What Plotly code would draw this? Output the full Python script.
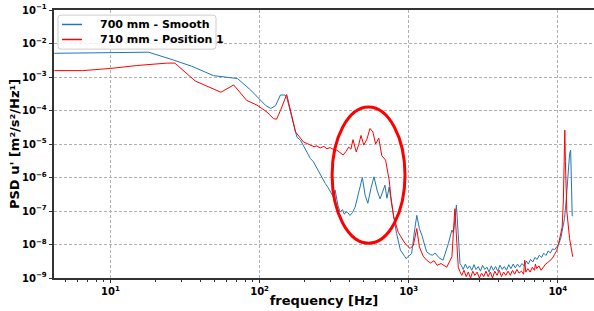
import plotly.graph_objects as go

# ---------------- data ----------------
freq_smooth = [4.2, 10, 18, 26.5, 35, 49, 63, 71, 87, 100, 110, 119, 128, 138, 148, 152,
               165, 178, 188, 200, 210, 219, 229, 240, 250, 262, 276, 288, 300, 313, 321, 335,
               347, 360, 370, 380, 390,
               404, 420, 437, 465, 489, 510, 532, 560, 585, 615, 643, 693, 715, 740, 770, 830,
               880, 944, 960, 1000, 1047, 1100, 1133, 1180, 1225, 1320, 1400, 1450, 1500,
               1600, 1700, 1846, 1950, 2000, 2090, 2150, 2208,
               2250, 2320, 2400, 2480, 2560, 2650, 2740, 2830, 2930, 3030, 3130, 3240, 3350,
               3460, 3580, 3700, 3830, 3960, 4100, 4240, 4380, 4530, 4690, 4850, 5020, 5190,
               5370, 5550, 5750, 5950, 6150, 6350, 6570, 6800, 7030, 7270, 7520, 7780, 8050,
               8330, 8620, 8920, 9230, 9550, 9880, 10200, 10500, 10800, 11100, 11400, 11700,
               12000, 12200, 12350, 12500]
psd_smooth = [5.1e-3, 5.2e-3, 5.5e-3, 3.2e-3, 2.1e-3, 1.1e-3, 9.5e-4, 9.0e-4, 4.1e-4, 2.1e-4,
              1.4e-4, 1.15e-4, 1.4e-4, 2.9e-4, 2.9e-4, 2.5e-4,
              5.8e-5, 1.6e-5, 1.3e-5, 8.0e-6, 5.5e-6, 3.7e-6, 3.0e-6, 2.0e-6, 1.4e-6, 1.0e-6,
              6.6e-7, 5.0e-7, 3.5e-7, 2.6e-7, 4.2e-7, 1.5e-7,
              9.3e-8, 1.1e-7, 8.0e-8, 9.5e-8, 9.0e-8,
              7.4e-8, 9.0e-8, 1.3e-7, 4.0e-7, 1.0e-6, 3.0e-7, 1.7e-7, 5.0e-7, 1.05e-6, 4.0e-7,
              2.3e-7, 5.9e-7, 2.4e-7, 5.2e-7, 1.5e-7, 2.1e-8,
              6.8e-9, 4.3e-9, 3.8e-9, 4.5e-9, 5.4e-9, 3.0e-8, 7.4e-8, 3.0e-8, 1.9e-8, 6.0e-9,
              5.0e-9, 4.8e-9, 5.6e-9,
              4.0e-9, 3.4e-9, 1.07e-8, 2.7e-8, 2.2e-8, 1.5e-7, 2.0e-8, 2.7e-9,
              2.4e-9, 1.8e-9, 2.6e-9, 1.9e-9, 2.3e-9, 1.7e-9, 2.5e-9, 1.8e-9, 2.2e-9, 1.6e-9,
              2.4e-9, 1.8e-9, 2.1e-9,
              1.5e-9, 2.3e-9, 1.7e-9, 2.2e-9, 1.6e-9, 2.4e-9, 1.8e-9, 2.2e-9, 1.7e-9, 2.5e-9,
              1.9e-9, 2.6e-9, 2.0e-9,
              2.6e-9, 2.1e-9, 2.7e-9, 2.3e-9, 3.2e-9, 2.6e-9, 3.6e-9, 3.0e-9, 4.1e-9, 3.6e-9,
              4.8e-9, 4.1e-9, 5.5e-9,
              4.7e-9, 6.4e-9, 5.6e-9, 7.4e-9, 7.0e-9, 8.8e-9, 1.1e-8, 1.6e-8, 2.8e-8, 6.0e-8,
              2.2e-7, 1.5e-6,
              5.0e-6, 6.6e-6, 8.0e-7, 7.0e-8]

freq_pos1 = [4.2, 6.5, 10, 15, 24, 27, 37, 55, 67, 82, 96, 112, 124, 130, 138, 152, 165, 174,
             197, 210, 220, 232, 242, 255, 270, 283, 297, 312, 330, 345, 363, 380, 396, 410,
             423, 445, 462, 479, 500, 525, 550, 575, 600, 630, 660, 700, 740, 760, 794, 851,
             946, 1023, 1075, 1133, 1180, 1250, 1320, 1400, 1480, 1550, 1650, 1800, 1950,
             2040, 2150,
             2200, 2270, 2350, 2430, 2510, 2600, 2690, 2780, 2880, 2980, 3080, 3190, 3300,
             3410, 3530, 3650, 3780, 3910, 4050, 4190, 4330, 4480, 4640, 4800, 4970, 5140,
             5320, 5500, 5700, 5900, 6000, 6100, 6300, 6520, 6750, 6980, 7080, 7220, 7470,
             7730, 8000, 8280, 8570, 8870, 9180, 9500, 9830, 10100, 10400, 10700, 10900,
             11050, 11150, 11250, 11500, 12000, 12600]
psd_pos1 = [1.55e-3, 1.55e-3, 1.8e-3, 2.2e-3, 2.6e-3, 2.6e-3, 7.6e-4, 3.5e-4, 5.8e-4, 2.0e-4,
            1.45e-4, 9.0e-5, 5.7e-5, 5.5e-5, 1.0e-4, 3.0e-4, 6.5e-5, 2.3e-5,
            1.15e-5, 1.0e-5, 9.5e-6, 8.3e-6, 8.8e-6, 7.6e-6, 8.5e-6, 7.2e-6, 7.8e-6, 6.9e-6,
            6.6e-6, 5.5e-6, 4.7e-6, 6.0e-6, 8.1e-6, 7.0e-6,
            1.35e-5, 5.8e-6, 9.5e-6, 1.8e-5, 9.3e-6, 1.4e-5, 2.9e-5, 2.3e-5, 1.0e-5, 1.5e-5,
            4.5e-6, 3.3e-6, 8.3e-7, 2.6e-7, 6.6e-8, 2.3e-8,
            1.07e-8, 7.6e-9, 9.5e-9, 3.0e-8, 8.5e-9, 4.5e-9, 3.4e-9, 2.8e-9, 3.3e-9, 2.4e-9,
            2.7e-9, 2.1e-9, 4.3e-9,
            1.17e-7, 2.1e-9,
            1.6e-9, 1.2e-9, 1.7e-9, 1.1e-9, 1.5e-9, 1.0e-9, 1.6e-9, 1.2e-9, 1.5e-9, 1.0e-9,
            1.4e-9, 1.1e-9, 1.6e-9,
            1.1e-9, 1.5e-9, 1.0e-9, 1.6e-9, 1.2e-9, 1.7e-9, 1.1e-9, 1.5e-9, 1.2e-9, 1.6e-9,
            1.2e-9, 1.7e-9, 1.3e-9,
            1.8e-9, 1.4e-9, 1.6e-9, 1.3e-9, 3.4e-9, 1.5e-9, 1.9e-9, 1.5e-9, 2.1e-9, 1.7e-9,
            2.6e-9, 1.9e-9, 2.3e-9,
            1.7e-9, 2.1e-9, 2.6e-9, 2.9e-9, 3.4e-9, 3.8e-9, 5.0e-9, 6.5e-9, 1.0e-8, 1.8e-8,
            3.3e-8, 2.0e-7,
            4.0e-6, 2.6e-5, 3.0e-6, 1.0e-7, 1.5e-8, 4.3e-9]

label_smooth = "700 mm - Smooth"
label_pos1 = "710 mm - Position 1"

x_tickvals = [10, 100, 1000, 10000]
x_ticktext = ["10<sup>1</sup>", "10<sup>2</sup>", "10<sup>3</sup>", "10<sup>4</sup>"]
y_tickvals = [1e-9, 1e-8, 1e-7, 1e-6, 1e-5, 1e-4, 1e-3, 1e-2, 1e-1]
y_ticktext = ["10<sup>−9</sup>", "10<sup>−8</sup>", "10<sup>−7</sup>", "10<sup>−6</sup>",
              "10<sup>−5</sup>", "10<sup>−4</sup>", "10<sup>−3</sup>", "10<sup>−2</sup>",
              "10<sup>−1</sup>"]
x_minor = [m * d for d in (1, 10, 100, 1000, 10000) for m in range(2, 10)]

COL_SMOOTH = "#1f77b4"
COL_POS1 = "#ff0000"

# ---------------- figure ----------------
FONT = "DejaVu Sans"
fig = go.Figure()
fig.add_trace(go.Scatter(x=freq_smooth, y=psd_smooth, mode="lines", name=label_smooth,
                         line=dict(color=COL_SMOOTH, width=1), showlegend=False))
fig.add_trace(go.Scatter(x=freq_pos1, y=psd_pos1, mode="lines", name=label_pos1,
                         line=dict(color=COL_POS1, width=1), showlegend=False))

grid = dict(showgrid=True, gridcolor="#b0b0b0", griddash="3px,2px", gridwidth=0.8)

fig.update_xaxes(type="log", range=[0.621, 4.243], tickmode="array", tickvals=x_tickvals,
                 ticktext=x_ticktext, ticks="outside", ticklen=3.5, tickcolor="#333",
                 showline=True, linecolor="#333", linewidth=1.5, mirror=True,
                 automargin=False,
                 minor=dict(tickmode="array", tickvals=x_minor, ticks="outside", ticklen=2,
                            tickcolor="#333", showgrid=False),
                 tickfont=dict(family=FONT, size=10, color="black", weight="bold"),
                 title=dict(text="frequency [Hz]", standoff=0,
                            font=dict(family=FONT, size=13, color="black", weight="bold")),
                 zeroline=False, **grid)
fig.update_yaxes(type="log", range=[-9, -1], tickmode="array", tickvals=y_tickvals,
                 ticktext=y_ticktext, ticks="outside", ticklen=3.5, tickcolor="#333",
                 showline=True, linecolor="#333", linewidth=1.5, mirror=False,
                 automargin=False,
                 tickfont=dict(family=FONT, size=10, color="black", weight="bold"),
                 title=dict(text="PSD u' [m²/s²/Hz¹]", standoff=0,
                            font=dict(family=FONT, size=13, color="black", weight="bold")),
                 zeroline=False, **grid)

# highlight ellipse (annotation drawn in plot-area coordinates)
fig.add_shape(type="circle", xref="paper", yref="paper", x0=0.515, x1=0.650, y0=0.130,
              y1=0.638, line=dict(color="#ff0000", width=3))

# legend box drawn in the matplotlib style (compact, rounded corners)
lx0, lx1, ly0, ly1, rx, ry = 0.0074, 0.300, 0.854, 0.981, 0.0056, 0.0112
legend_path = (f"M {lx0+rx},{ly0} L {lx1-rx},{ly0} Q {lx1},{ly0} {lx1},{ly0+ry} "
               f"L {lx1},{ly1-ry} Q {lx1},{ly1} {lx1-rx},{ly1} L {lx0+rx},{ly1} "
               f"Q {lx0},{ly1} {lx0},{ly1-ry} L {lx0},{ly0+ry} Q {lx0},{ly0} {lx0+rx},{ly0} Z")
fig.add_shape(type="path", xref="paper", yref="paper", path=legend_path,
              fillcolor="rgba(255,255,255,0.8)", line=dict(color="#cccccc", width=1))
for yy, col, lab in ((0.946, COL_SMOOTH, label_smooth), (0.890, COL_POS1, label_pos1)):
    fig.add_shape(type="line", xref="paper", yref="paper", x0=0.0148, x1=0.0519, y0=yy,
                  y1=yy, line=dict(color=col, width=1.5))
    fig.add_annotation(xref="paper", yref="paper", x=0.0815, y=yy, text=lab,
                       showarrow=False, xanchor="left", yanchor="middle",
                       font=dict(family=FONT, size=11, color="black", weight="bold"))

fig.update_layout(
    width=594, height=311,
    margin=dict(l=54, r=0, t=10, b=33, autoexpand=False),
    paper_bgcolor="white", plot_bgcolor="white",
    font=dict(family=FONT, color="black"),
    showlegend=False,
)

fig.write_html("out.html", config={"displayModeBar": False},
               post_script="document.body.style.margin='0px';"
                           "document.body.style.overflow='hidden';")
